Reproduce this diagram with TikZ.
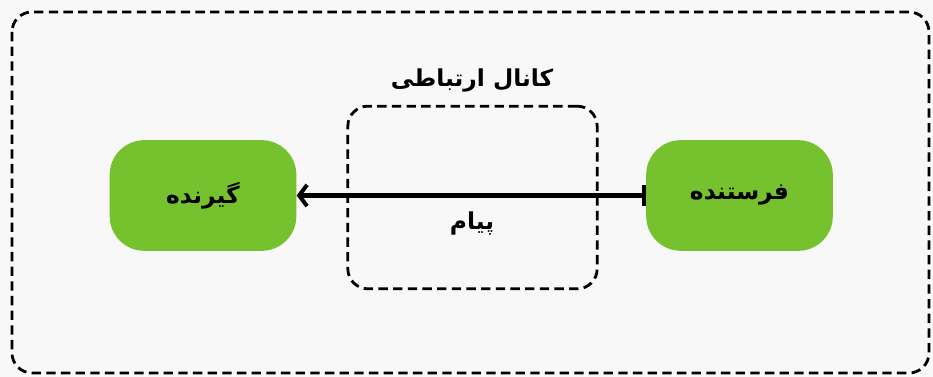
\documentclass[tikz,border=0pt]{standalone}
\usepackage{fontspec}
\usepackage{xcolor}
\usetikzlibrary{arrows.meta, positioning}
\TeXXeTstate=1
\newfontfamily\arabicfont[Script=Arabic]{DejaVu Sans}
\definecolor{bgGray}{RGB}{248,248,248}
\definecolor{nodeGreen}{RGB}{118,193,46}

\begin{document}
\begin{tikzpicture}[x=0.75pt, y=-0.75pt,
    party/.style={fill=nodeGreen, rounded corners=26pt, minimum width=140pt, minimum height=83pt, font=\arabicfont\bfseries\fontsize{17.5}{21}\selectfont},
    channelbox/.style={draw, dashed, dash pattern=on 7pt off 4pt, line width=2.1pt, rounded corners=15pt, minimum width=187pt, minimum height=137pt},
    label/.style={font=\arabicfont\bfseries\fontsize{17.5}{21}\selectfont},
    msgline/.style={line width=3.2pt, {Bar[width=16pt,line width=3pt]}-{Straight Barb[length=6pt,width=16pt,line width=3pt]}}]
  % background and outer frame
  \fill[bgGray] (0,0) rectangle (933,377);
  \useasboundingbox (0,0) rectangle (933,377);
  \draw[dashed, dash pattern=on 7pt off 4pt, line width=2.1pt, rounded corners=15pt] (12,12) rectangle (929,373);

  % sender and receiver
  \node[party] (sender) at (739.5,195.5) {\beginR فرستنده\endR};
  \node[party] (receiver) at (203,195.5) {\beginR گیرنده\endR};

  % channel
  \node[channelbox] (channel) at (472.5,197.5) {};
  \node[label] (title) at (472,80) {\beginR کانال ارتباطی\endR};
  \node[label] (message) at (472,223) {\beginR پیام\endR};

  % message arrow
  \draw[msgline] (sender.west) -- (receiver.east);
\end{tikzpicture}
\end{document}
